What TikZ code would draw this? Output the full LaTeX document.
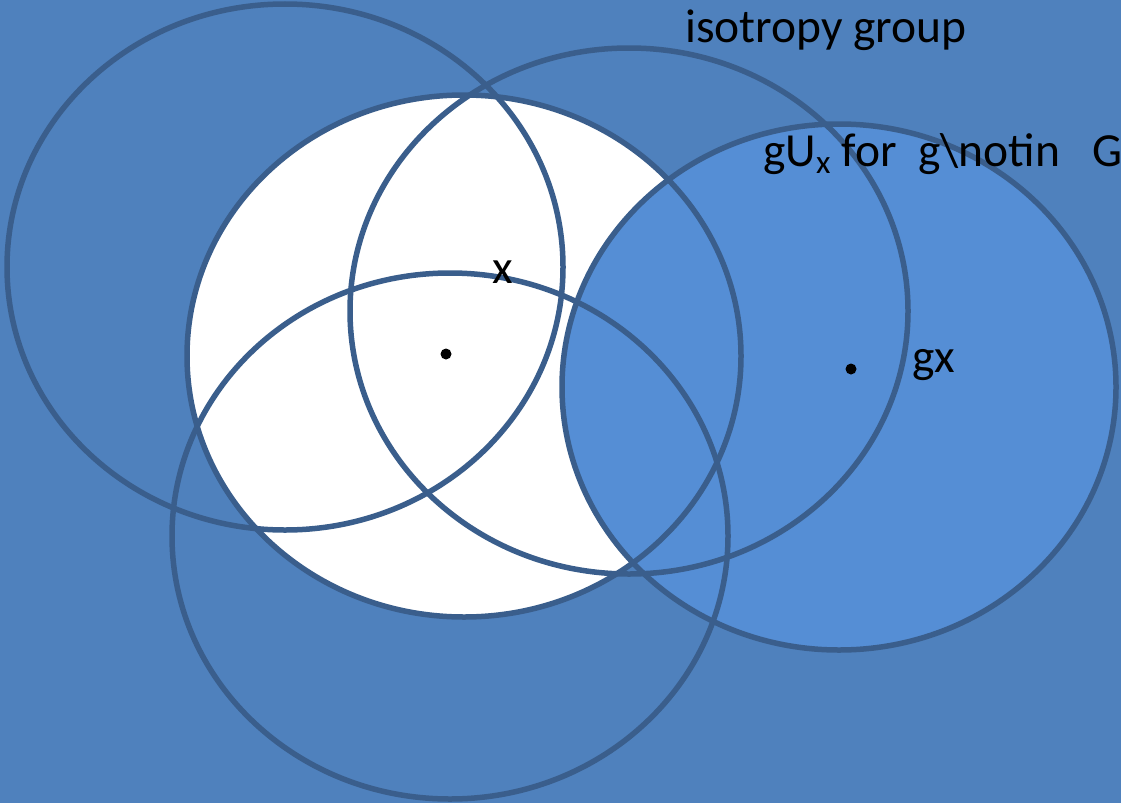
\documentclass[tikz,border=0pt]{standalone}
\usepackage{fontspec}
\setmainfont{Carlito}
\definecolor{bgblue}{HTML}{4F81BD}
\definecolor{lightblue}{HTML}{558ED5}
\definecolor{strokeblue}{HTML}{3A5E8C}
\begin{document}
\begin{tikzpicture}[x=1pt,y=-1pt,
  rim/.style={draw=strokeblue,line width=5.5pt},
  lbl/.style={anchor=base west,inner sep=0pt,font=\fontsize{47.5}{57}\selectfont,text=black},
  pt/.style={circle,fill=black,inner sep=0pt,minimum size=11pt}]
\useasboundingbox (0,0) rectangle (1121,803);
\fill[bgblue] (0,0) rectangle (1121,803);
% fills
\fill[white] (464,356) ellipse [x radius=277pt, y radius=261pt];
\fill[lightblue] (839,387) ellipse [x radius=277pt, y radius=263pt];
% outlines
\draw[rim] (285,267) ellipse [x radius=278pt, y radius=263pt];
\draw[rim] (464,356) ellipse [x radius=277pt, y radius=261pt];
\draw[rim] (629,311) ellipse [x radius=279pt, y radius=263pt];
\draw[rim] (450,536) ellipse [x radius=278pt, y radius=263pt];
\draw[rim] (839,387) ellipse [x radius=277pt, y radius=263pt];
% points
\node[pt] (px) at (446,354) {};
\node[pt] (pgx) at (851,369) {};
% labels
\node[lbl] (iso) at (685,42) {isotropy group};
\node[lbl] (gux) at (763,166) {gU\textsubscript{x} for\ \ g\textbackslash notin\ \ \ G};
\node[lbl] (lx) at (492,283) {x};
\node[lbl] (lgx) at (912,372) {gx};
\end{tikzpicture}
\end{document}
